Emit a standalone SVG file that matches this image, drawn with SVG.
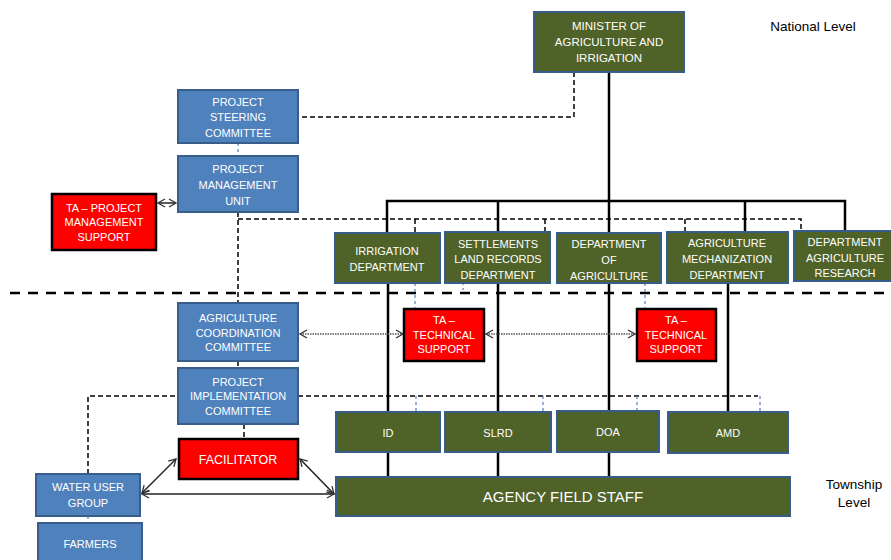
<svg xmlns="http://www.w3.org/2000/svg" width="891" height="560" viewBox="0 0 891 560">
<defs>
<style>
.g{fill:#4F6228;stroke:#385D8A;stroke-width:2}
.b{fill:#4F81BD;stroke:#385D8A;stroke-width:2}
.r{fill:#FF0000;stroke:#000;stroke-width:2.5}
text{font-family:"Liberation Sans",Arial,sans-serif;font-size:11px;fill:#fff;text-anchor:middle}
.lbl{fill:#000;font-size:13.5px}
.solid{stroke:#000;stroke-width:2.5;fill:none}
.dash{stroke:#000;stroke-width:1.5;stroke-dasharray:5,3;fill:none}
.bdash{stroke:#4F81BD;stroke-width:1.2;stroke-dasharray:3,3;fill:none}
.dot{stroke:#555;stroke-width:1.5;stroke-dasharray:1.5,1;fill:none}
.arr{stroke:#222;stroke-width:1.5;fill:none}
</style>
<marker id="oa" markerWidth="10" markerHeight="10" refX="8" refY="5" orient="auto-start-reverse" markerUnits="userSpaceOnUse">
<path d="M1,1 L8,5 L1,9" fill="none" stroke="#333" stroke-width="1.3"/>
</marker>
</defs>
<rect width="891" height="560" fill="#fff"/>

<g id="connectors">
<line x1="10" y1="293" x2="891" y2="293" stroke="#000" stroke-width="2.5" stroke-dasharray="10,8"/>
<path class="solid" d="M609,72 V201 M387,233 V201 H845 V231 M498,201 V232 M609,201 V233 M745,201 V232"/>
<path class="solid" d="M388,283 V412 M498,283 V412 M609,283 V411 M728,283 V412"/>
<path class="solid" d="M388,452 V477 M498,452 V477 M609,452 V477" stroke-width="3"/>
<path class="dash" d="M574,72 V117 H298"/>
<path class="dash" d="M238,212 V303 M238,219 H801 V231 M415,219 V233 M545,219 V232 M685,219 V232"/>
<path class="dash" d="M238,361 V368 M244,424 V438"/>
<path class="dash" stroke-width="1.2" stroke-dasharray="3,2" d="M88,474 V396 H178 M298,396 H758"/>
<path class="bdash" d="M238,143 V156 M415,283 V308 M645,283 V308 M416,396 V412 M543,396 V412 M637,396 V411 M760,396 V412 M88,516 V523"/>
<path class="bdash" d="M463,264 V290"/>
<line class="arr" x1="158" y1="203" x2="176" y2="203" stroke="#555" marker-start="url(#oa)" marker-end="url(#oa)"/>
<line class="dot" x1="300" y1="334" x2="403" y2="334" marker-start="url(#oa)" marker-end="url(#oa)"/>
<line class="dot" x1="486" y1="334" x2="635" y2="334" marker-start="url(#oa)" marker-end="url(#oa)"/>
<line class="arr" x1="176" y1="459" x2="142" y2="493" marker-start="url(#oa)" marker-end="url(#oa)"/>
<line class="arr" x1="300" y1="459" x2="334" y2="494" marker-start="url(#oa)" marker-end="url(#oa)"/>
<line class="arr" x1="142" y1="494" x2="334" y2="494" marker-start="url(#oa)" marker-end="url(#oa)"/>
</g>

<g id="minister"><rect class="g" x="534" y="12" width="150" height="60"/>
<text x="609" y="30" style="font-size:11.5px">MINISTER OF</text><text x="609" y="46" style="font-size:11.5px">AGRICULTURE AND</text><text x="609" y="62" style="font-size:11.5px">IRRIGATION</text></g>
<g id="national-level"><text class="lbl" x="813" y="31">National Level</text></g>
<g id="psc"><rect class="b" x="178" y="90" width="120" height="53"/>
<text x="238" y="106">PROJECT</text><text x="238" y="121">STEERING</text><text x="238" y="137">COMMITTEE</text></g>
<g id="pmu"><rect class="b" x="178" y="156" width="120" height="56"/>
<text x="238" y="173">PROJECT</text><text x="238" y="189">MANAGEMENT</text><text x="238" y="205">UNIT</text></g>
<g id="ta-pms"><rect class="r" x="52" y="194" width="104" height="56"/>
<text x="104" y="212">TA – PROJECT</text><text x="104" y="226">MANAGEMENT</text><text x="104" y="241">SUPPORT</text></g>

<g id="irrigation"><rect class="g" x="335" y="233" width="105" height="50"/>
<text x="387" y="255">IRRIGATION</text><text x="387" y="271">DEPARTMENT</text></g>
<g id="settlements"><rect class="g" x="445" y="232" width="105" height="51"/>
<text x="498" y="248">SETTLEMENTS</text><text x="498" y="263">LAND RECORDS</text><text x="498" y="279">DEPARTMENT</text></g>
<g id="doa-dept"><rect class="g" x="557" y="233" width="104" height="50"/>
<text x="609" y="248">DEPARTMENT</text><text x="609" y="264">OF</text><text x="609" y="280">AGRICULTURE</text></g>
<g id="agmech"><rect class="g" x="667" y="232" width="121" height="51"/>
<text x="727" y="247">AGRICULTURE</text><text x="727" y="263">MECHANIZATION</text><text x="727" y="279">DEPARTMENT</text></g>
<g id="research"><rect class="g" x="794" y="231" width="100" height="50"/>
<text x="845" y="246">DEPARTMENT</text><text x="845" y="262">AGRICULTURE</text><text x="845" y="277">RESEARCH</text></g>

<g id="acc"><rect class="b" x="178" y="303" width="120" height="58"/>
<text x="238" y="322">AGRICULTURE</text><text x="238" y="337">COORDINATION</text><text x="238" y="351">COMMITTEE</text></g>
<g id="pic"><rect class="b" x="178" y="368" width="120" height="56"/>
<text x="238" y="386">PROJECT</text><text x="238" y="400">IMPLEMENTATION</text><text x="238" y="415">COMMITTEE</text></g>
<g id="facilitator"><rect class="r" x="179" y="439" width="119" height="40"/>
<text x="238" y="464" style="font-size:12.5px">FACILITATOR</text></g>
<g id="wug"><rect class="b" x="36" y="474" width="104" height="42"/>
<text x="88" y="491">WATER USER</text><text x="88" y="507">GROUP</text></g>
<g id="farmers"><rect class="b" x="38" y="523" width="104" height="45"/>
<text x="90" y="548">FARMERS</text></g>

<g id="ta-ts1"><rect class="r" x="404" y="309" width="80" height="52"/>
<text x="444" y="324">TA –</text><text x="444" y="339">TECHNICAL</text><text x="444" y="353">SUPPORT</text></g>
<g id="ta-ts2"><rect class="r" x="637" y="309" width="79" height="52"/>
<text x="676" y="324">TA –</text><text x="676" y="339">TECHNICAL</text><text x="676" y="353">SUPPORT</text></g>

<g id="id"><rect class="g" x="336" y="412" width="104" height="40"/><text x="388" y="437">ID</text></g>
<g id="slrd"><rect class="g" x="445" y="412" width="106" height="40"/><text x="498" y="437">SLRD</text></g>
<g id="doa"><rect class="g" x="557" y="411" width="102" height="41"/><text x="608" y="436">DOA</text></g>
<g id="amd"><rect class="g" x="668" y="412" width="120" height="41"/><text x="728" y="437">AMD</text></g>
<g id="agency"><rect class="g" x="336" y="477" width="454" height="39"/>
<text x="563" y="502" style="font-size:15px">AGENCY FIELD STAFF</text></g>
<g id="township-level"><text class="lbl" x="854" y="489">Township</text><text class="lbl" x="854" y="507">Level</text></g>
</svg>
